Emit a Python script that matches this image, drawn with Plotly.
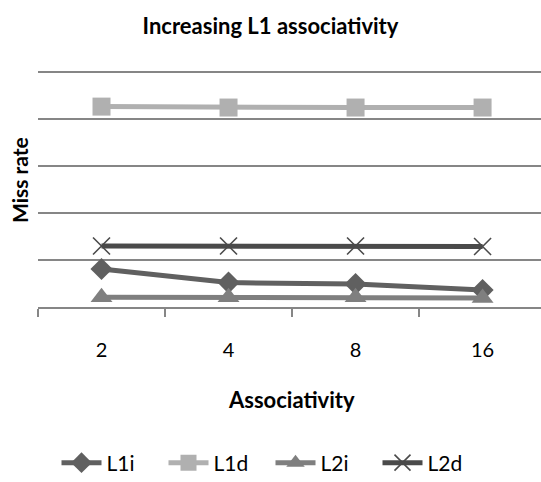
import plotly.graph_objects as go

categories = ["2", "4", "8", "16"]
l1i = [0.0081, 0.0052, 0.0049, 0.0036]
l1d = [0.0427, 0.0425, 0.0425, 0.0425]
l2i = [0.0021, 0.0021, 0.0021, 0.0019]
l2d = [0.0130, 0.0130, 0.0130, 0.0129]

FONT = "Lato"

series = [
    ("L1i", l1i, "#606060", "diamond", 17, None),
    ("L1d", l1d, "#b0b0b0", "square", 18, None),
    ("L2i", l2i, "#7f7f7f", "triangle-up", 19, None),
    ("L2d", l2d, "#4a4a4a", "x-thin", 17, "#4a4a4a"),
]

fig = go.Figure()
for name, vals, color, sym, size, lc in series:
    marker = dict(symbol=sym, size=size, color=color)
    if lc:
        marker["line"] = dict(color=lc, width=1.6)
    fig.add_trace(go.Scatter(
        x=categories, y=vals, name=name, mode="lines+markers",
        line=dict(color=color, width=5), marker=marker,
    ))

PT, PB, PL = 70, 307, 38
PH = PB - PT
PW = 541 - PL

fig.update_layout(
    width=541, height=482,
    margin=dict(l=PL, r=0, t=PT, b=482 - PB),
    paper_bgcolor="white", plot_bgcolor="white",
    font=dict(family=FONT, size=20, color="#000"),
    title=dict(text="<b>Increasing L1 associativity</b>", x=0.5, xanchor="center",
               y=1 - 26 / 482, yanchor="middle", yref="container", xref="container",
               font=dict(family=FONT, size=22, color="#000")),
    showlegend=True,
    legend=dict(orientation="h", x=0.5, xanchor="center", xref="container",
                y=1 - 463 / 482, yanchor="middle", yref="container",
                font=dict(family=FONT, size=21, color="#000"),
                itemwidth=40, tracegroupgap=0,
                entrywidth=52, entrywidthmode="pixels"),
    xaxis=dict(type="category", range=[-0.5, 3.46], tickson="boundaries",
               ticks="outside", ticklen=8, tickcolor="#868686", tickwidth=1.5,
               showgrid=False, showline=True, linecolor="#868686", linewidth=1.5,
               ticklabelstandoff=24, tickfont=dict(family=FONT, size=20, color="#000"),
               zeroline=False),
    yaxis=dict(range=[0, 0.0505], tickvals=[0.01, 0.02, 0.03, 0.04, 0.05],
               showticklabels=False, showgrid=True,
               gridcolor="#868686", gridwidth=1.5, zeroline=False, showline=False,
               ticks=""),
    annotations=[
        dict(text="<b>Associativity</b>", xref="paper", yref="paper",
             x=(291 - PL) / PW, y=(PB - 400) / PH, xanchor="center", yanchor="middle",
             showarrow=False, font=dict(family=FONT, size=22, color="#000")),
        dict(text="<b>Miss rate</b>", xref="paper", yref="paper", x=(19 - PL) / PW,
             y=(PB - 180) / PH, xanchor="center", yanchor="middle", showarrow=False,
             textangle=-90, font=dict(family=FONT, size=21, color="#000")),
    ],
)

fig.write_html("out.html")
